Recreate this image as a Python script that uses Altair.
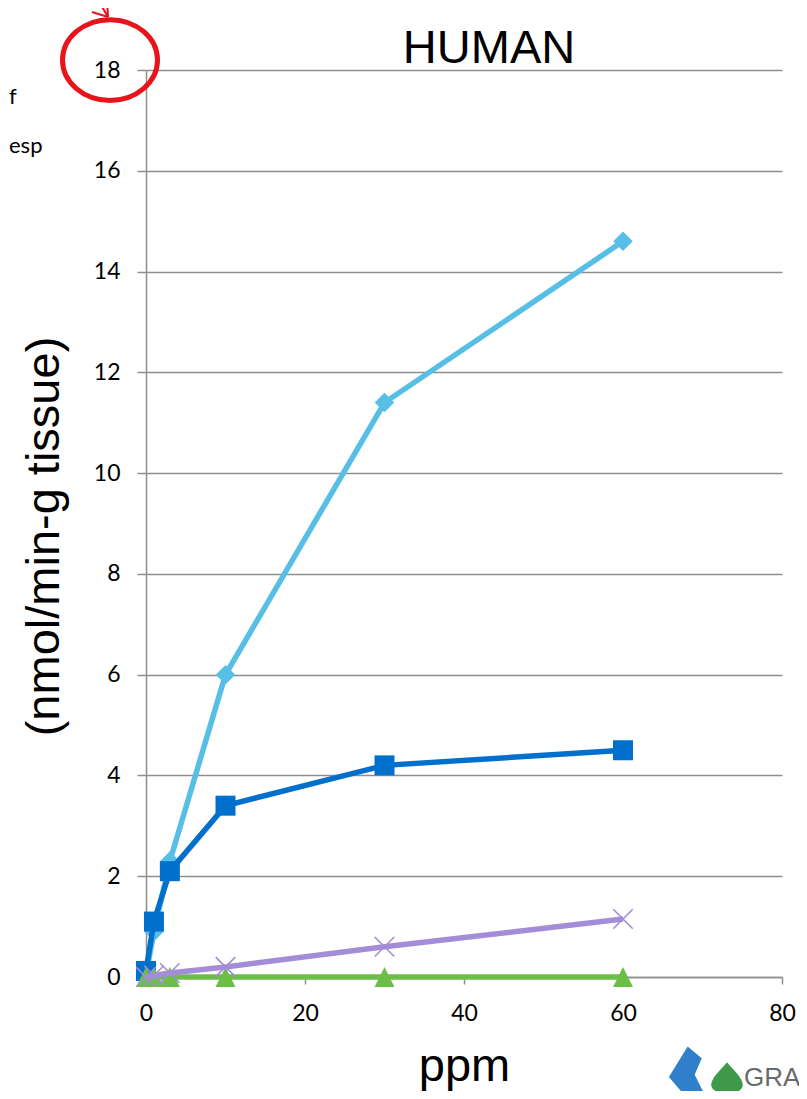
import altair as alt
import pandas as pd

# ---- data ----
ppm = [0, 1, 3, 10, 30, 60]
series_names = ["light_blue", "dark_blue", "green", "purple"]
light_blue_vals = [0.05, 0.9, 2.3, 6.0, 11.4, 14.6]
dark_blue_vals = [0.12, 1.1, 2.1, 3.4, 4.2, 4.5]
green_vals = [0.0, 0.0, 0.0, 0.0, 0.0, 0.0]
purple_vals = [0.0, 0.03, 0.08, 0.2, 0.6, 1.15]
x_ticks = [0, 20, 40, 60, 80]
y_ticks = [0, 2, 4, 6, 8, 10, 12, 14, 16, 18]

values_by_series = {
    "light_blue": light_blue_vals,
    "dark_blue": dark_blue_vals,
    "green": green_vals,
    "purple": purple_vals,
}
rows = []
for name in series_names:
    for xv, yv in zip(ppm, values_by_series[name]):
        rows.append({"series": name, "ppm": xv, "value": yv})
df = pd.DataFrame(rows)

GRID = "#8E8E8E"
W, H = 636, 907
LABEL_FONT = "Lato"
TITLE_FONT = "Liberation Sans"
TITLE_SIZE = 47

x_enc = alt.X(
    "ppm:Q",
    scale=alt.Scale(domain=[0, 80], nice=False, zero=False),
    axis=alt.Axis(
        values=x_ticks, grid=False, title="ppm", labelFlush=False,
        domainColor=GRID, domainWidth=1.5, tickColor=GRID, tickWidth=1.5, tickSize=7,
        labelFont=LABEL_FONT, labelFontSize=23, labelColor="black",
        labelBaseline="alphabetic", labelPadding=36,
        titleFont=TITLE_FONT, titleFontSize=TITLE_SIZE, titleFontWeight="normal", titleColor="black",
        titleX=318, titleY=103, titleAlign="center", titleBaseline="alphabetic",
    ),
)
y_enc = alt.Y(
    "value:Q",
    scale=alt.Scale(domain=[0, 18], nice=False),
    axis=alt.Axis(
        values=y_ticks, grid=True, gridColor=GRID, gridWidth=1.5,
        title="(nmol/min-g tissue)", labelFlush=False,
        domainColor=GRID, domainWidth=1.5, tickColor=GRID, tickWidth=1.5, tickSize=9,
        labelFont=LABEL_FONT, labelFontSize=23, labelColor="black", labelPadding=17,
        titleFont=TITLE_FONT, titleFontSize=TITLE_SIZE, titleFontWeight="normal", titleColor="black",
        titleX=-102, titleY=466, titleAngle=270, titleAlign="center", titleBaseline="middle",
    ),
)

styles = {
    "light_blue": dict(color="#57BFE6", shape="diamond", size=380, filled=True, sw=1),
    "dark_blue": dict(color="#0070CC", shape="square", size=400, filled=True, sw=1),
    "green": dict(color="#6BBF47", shape="M0,-1L1,1L-1,1Z", size=400, filled=True, sw=1),
    "purple": dict(color="#A58CD9", shape="M-1,-1L1,1M-1,1L1,-1", size=380, filled=False, sw=1.6),
}

base = alt.Chart(df)
layers = []
for name in series_names:
    st = styles[name]
    sub = base.transform_filter(alt.datum.series == name)
    layers.append(sub.mark_line(color=st["color"], strokeWidth=5.5).encode(x=x_enc, y=y_enc))
    layers.append(
        sub.mark_point(shape=st["shape"], size=st["size"], filled=st["filled"],
                       color=st["color"], opacity=1, strokeWidth=st["sw"])
        .encode(x=x_enc, y=y_enc)
    )

anno = alt.Chart(pd.DataFrame({"a": [0]}))

title = anno.mark_text(text="HUMAN", font=TITLE_FONT, fontSize=TITLE_SIZE, align="center",
                       baseline="alphabetic", color="black").encode(
    x=alt.value(343), y=alt.value(-7))

left_f = anno.mark_text(text="f", font=LABEL_FONT, fontSize=22, align="left",
                        baseline="alphabetic", color="black").encode(
    x=alt.value(-137), y=alt.value(34))
left_esp = anno.mark_text(text="esp", font=LABEL_FONT, fontSize=22, align="left",
                          baseline="alphabetic", color="black").encode(
    x=alt.value(-137), y=alt.value(83))

red = "#E8141B"
ellipse = anno.mark_point(shape="M-1,0A1,0.85 0 1,1 1,0A1,0.85 0 1,1 -1,0Z",
                          size=9025, filled=False, color=red, strokeWidth=5,
                          opacity=1).encode(x=alt.value(-36), y=alt.value(-10))
arrow1 = anno.mark_rule(color=red, strokeWidth=2).encode(
    x=alt.value(-49), y=alt.value(-72), x2=alt.value(-38), y2=alt.value(-53))
arrow2 = anno.mark_rule(color=red, strokeWidth=2).encode(
    x=alt.value(-54), y=alt.value(-58), x2=alt.value(-38), y2=alt.value(-53))
arrow3 = anno.mark_rule(color=red, strokeWidth=2).encode(
    x=alt.value(-39), y=alt.value(-72), x2=alt.value(-38), y2=alt.value(-53))

logo_blue = anno.mark_point(shape="M-0.1,-1L0.5,-0.5L0.2,0.2L0.6,1L-0.3,1L-0.9,0.3Z",
                            size=2200, filled=True, color="#2F7FCB", opacity=1).encode(
    x=alt.value(544), y=alt.value(1000))
logo_green = anno.mark_point(shape="M0,-1C0.5,-0.4 1,0 1,0.45A1,0.55 0 0,1 -1,0.45C-1,0 -0.5,-0.4 0,-1Z",
                             size=1000, filled=True, color="#3E9A4A", opacity=1).encode(
    x=alt.value(581), y=alt.value(1008))
logo_text = anno.mark_text(text="GRA", font="Liberation Sans", fontSize=26, align="left",
                           baseline="alphabetic", color="#6A6A6A").encode(
    x=alt.value(598), y=alt.value(1016))

chart = alt.layer(
    *layers, title, left_f, left_esp, ellipse, arrow1, arrow2, arrow3,
    logo_blue, logo_green, logo_text,
).properties(
    width=W, height=H,
    autosize=alt.AutoSizeParams(type="none"),
    padding={"left": 138, "top": 62, "right": 17, "bottom": 114},
).configure_view(stroke=None)

chart.save("out.html", embed_options={"renderer": "svg", "actions": False})
